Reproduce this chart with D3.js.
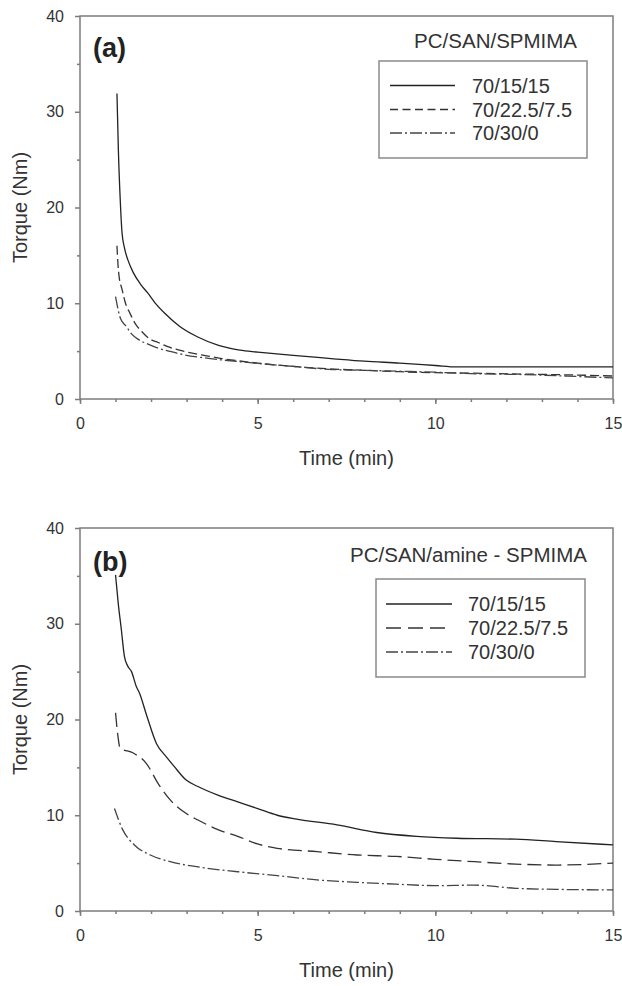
<!DOCTYPE html>
<html>
<head>
<meta charset="utf-8">
<script src="https://cdn.jsdelivr.net/npm/d3@7"></script>
<style>
  html, body { margin: 0; padding: 0; background: #fff; }
  svg { display: block; font-family: 'Liberation Sans', Arial, sans-serif; }
</style>
</head>
<body>
<div id="chart"></div>
<script>
// Torque vs time, two panels (a) and (b)
const seriesLabels = ['70/15/15', '70/22.5/7.5', '70/30/0'];
const xTicks = [0, 5, 10, 15];
const yTicks = [0, 10, 20, 30, 40];

// panel (a) PC/SAN/SPMIMA
const timeA1 = [1.04, 1.08, 1.13, 1.18, 1.25, 1.35, 1.5, 1.7, 1.9, 2.1, 2.4, 2.8, 3.3, 3.9, 4.5, 5.0, 6.0, 7.0, 8.0, 9.0, 10.0, 10.6, 12.0, 13.5, 15.0];
const torqueA1 = [31.9, 26, 21, 17.5, 15.8, 14.5, 13.2, 12.0, 11.1, 10.1, 8.9, 7.6, 6.5, 5.6, 5.1, 4.9, 4.55, 4.25, 3.95, 3.75, 3.5, 3.35, 3.35, 3.35, 3.35];
const timeA2 = [1.04, 1.07, 1.1, 1.18, 1.28, 1.4, 1.55, 1.75, 1.95, 2.2, 2.45, 2.95, 3.5, 3.95, 5.0, 6.0, 7.0, 8.0, 9.0, 10.0, 11.0, 12.5, 14.0, 15.0];
const torqueA2 = [16.0, 14.0, 12.8, 11.5, 10.0, 9.0, 7.9, 7.0, 6.3, 5.9, 5.5, 4.95, 4.55, 4.25, 3.75, 3.4, 3.15, 3.0, 2.85, 2.75, 2.7, 2.6, 2.5, 2.4];
const timeA3 = [1.0, 1.14, 1.3, 1.45, 1.65, 1.9, 2.2, 2.5, 2.95, 3.5, 3.95, 5.0, 6.0, 7.0, 8.0, 9.0, 10.0, 11.0, 12.5, 14.0, 15.0];
const torqueA3 = [10.7, 8.4, 7.6, 6.8, 6.2, 5.75, 5.3, 5.0, 4.6, 4.3, 4.1, 3.72, 3.4, 3.1, 3.0, 2.9, 2.8, 2.65, 2.55, 2.35, 2.2];

// panel (b) PC/SAN/amine - SPMIMA
const timeB1 = [1.0, 1.08, 1.16, 1.25, 1.34, 1.45, 1.59, 1.67, 1.87, 2.15, 2.43, 2.65, 2.98, 3.32, 3.88, 4.44, 5.0, 5.55, 6.1, 7.23, 8.35, 9.47, 10.6, 12.26, 13.4, 15.0];
const torqueB1 = [35.1, 32.0, 29.5, 26.6, 25.6, 25.0, 23.4, 22.8, 20.5, 17.5, 16.1, 15.1, 13.7, 13.0, 12.1, 11.4, 10.7, 10.0, 9.6, 9.0, 8.2, 7.8, 7.6, 7.5, 7.25, 6.9];
const timeB2 = [1.0, 1.06, 1.13, 1.5, 1.87, 2.2, 2.54, 2.98, 3.32, 3.88, 4.44, 5.0, 5.55, 6.67, 7.8, 8.9, 10.0, 11.1, 12.26, 13.4, 15.0];
const torqueB2 = [20.7, 18.5, 17.0, 16.5, 15.4, 13.3, 11.6, 10.2, 9.5, 8.5, 7.8, 7.0, 6.55, 6.2, 5.85, 5.7, 5.4, 5.15, 4.9, 4.8, 5.0];
const timeB3 = [0.97, 1.2, 1.53, 1.98, 2.54, 3.32, 4.44, 5.55, 6.67, 7.8, 8.9, 10.0, 11.1, 12.26, 13.4, 15.0];
const torqueB3 = [10.7, 8.5, 6.9, 5.85, 5.15, 4.6, 4.1, 3.7, 3.25, 3.0, 2.8, 2.65, 2.7, 2.37, 2.26, 2.2];

const width = 622, height = 986;
const svg = d3.select('#chart').append('svg')
    .attr('width', width)
    .attr('height', height);

const textColor = '#333';
const axisColor = '#7c7c7c';

function drawPanel(cfg) {
    const x = d3.scaleLinear().domain([0, 15]).range([80, 613]);
    const y = d3.scaleLinear().domain([0, 40]).range([cfg.bottom, cfg.top]);
    const g = svg.append('g');

    // frame
    g.append('rect')
        .attr('x', x(0)).attr('y', y(40))
        .attr('width', x(15) - x(0)).attr('height', y(0) - y(40))
        .attr('fill', 'none')
        .attr('stroke', axisColor)
        .attr('stroke-width', 1.5);

    // minor ticks
    g.append('g')
        .attr('transform', `translate(0,${y(0)})`)
        .call(d3.axisBottom(x).tickValues(d3.range(0, 16)).tickSize(3).tickFormat(''))
        .call(a => a.select('.domain').remove())
        .call(a => a.selectAll('line').attr('stroke', axisColor).attr('stroke-width', 1.5));
    g.append('g')
        .attr('transform', `translate(${x(0)},0)`)
        .call(d3.axisLeft(y).tickValues([5, 15, 25, 35]).tickSize(3).tickFormat(''))
        .call(a => a.select('.domain').remove())
        .call(a => a.selectAll('line').attr('stroke', axisColor).attr('stroke-width', 1.5));

    // major ticks + labels
    const xAxis = g.append('g')
        .attr('transform', `translate(0,${y(0)})`)
        .call(d3.axisBottom(x).tickValues(xTicks).tickSize(5).tickPadding(14));
    const yAxis = g.append('g')
        .attr('transform', `translate(${x(0)},0)`)
        .call(d3.axisLeft(y).tickValues(yTicks).tickSize(5).tickPadding(11));
    [xAxis, yAxis].forEach(a => {
        a.select('.domain').remove();
        a.selectAll('line').attr('stroke', axisColor).attr('stroke-width', 1.5);
        a.selectAll('text')
            .attr('fill', textColor)
            .style('font-size', '16px')
            .style('font-family', "'Liberation Sans', Arial, sans-serif");
    });

    // axis titles
    g.append('text')
        .attr('x', (x(0) + x(15)) / 2)
        .attr('y', y(0) + 66)
        .attr('text-anchor', 'middle')
        .attr('fill', textColor)
        .style('font-size', '20px')
        .text('Time (min)');
    g.append('text')
        .attr('transform', `translate(27,${(y(0) + y(40)) / 2}) rotate(-90)`)
        .attr('text-anchor', 'middle')
        .attr('fill', textColor)
        .style('font-size', '20px')
        .text('Torque (Nm)');

    // panel letter and title
    g.append('text')
        .attr('x', 93)
        .attr('y', cfg.letterY)
        .attr('fill', '#222')
        .style('font-size', '27px')
        .style('font-weight', 'bold')
        .text(cfg.letter);
    g.append('text')
        .attr('x', cfg.titleX)
        .attr('y', cfg.titleY)
        .attr('text-anchor', 'end')
        .attr('fill', textColor)
        .style('font-size', '20.5px')
        .text(cfg.title);

    // curves
    const line = d3.line()
        .x(d => x(d[0]))
        .y(d => y(d[1]))
        .curve(d3.curveMonotoneX);
    cfg.series.forEach((s, i) => {
        const pts = s.time.map((t, j) => [t, s.torque[j]]);
        g.append('path')
            .datum(pts)
            .attr('d', line)
            .attr('fill', 'none')
            .attr('stroke', cfg.styles[i].color)
            .attr('stroke-width', 1.3)
            .attr('stroke-dasharray', cfg.styles[i].dash);
    });

    // legend
    const lg = cfg.legend;
    g.append('rect')
        .attr('x', lg.x).attr('y', lg.y)
        .attr('width', lg.w).attr('height', lg.h)
        .attr('fill', '#fff')
        .attr('stroke', '#8a8a8a')
        .attr('stroke-width', 1.5);
    seriesLabels.forEach((label, i) => {
        const cy = lg.rows[i];
        g.append('line')
            .attr('x1', lg.lineX1).attr('x2', lg.lineX2)
            .attr('y1', cy).attr('y2', cy)
            .attr('stroke', cfg.styles[i].color)
            .attr('stroke-width', 1.3)
            .attr('stroke-dasharray', cfg.styles[i].legendDash);
        g.append('text')
            .attr('x', lg.textX)
            .attr('y', cy + 7)
            .attr('fill', textColor)
            .style('font-size', '20px')
            .text(label);
    });
}

drawPanel({
    top: 16, bottom: 399,
    letter: '(a)', letterY: 57,
    title: 'PC/SAN/SPMIMA', titleX: 577, titleY: 48,
    series: [
        { time: timeA1, torque: torqueA1 },
        { time: timeA2, torque: torqueA2 },
        { time: timeA3, torque: torqueA3 }
    ],
    styles: [
        { color: '#222', dash: null, legendDash: null },
        { color: '#333', dash: '9,4', legendDash: '8,4.5' },
        { color: '#444', dash: '12,3,2,3', legendDash: '12,3,2,3' }
    ],
    legend: { x: 379, y: 61, w: 208, h: 97, rows: [85.5, 109.5, 133], lineX1: 390, lineX2: 455, textX: 472 }
});

drawPanel({
    top: 528, bottom: 911,
    letter: '(b)', letterY: 571,
    title: 'PC/SAN/amine - SPMIMA', titleX: 587, titleY: 562,
    series: [
        { time: timeB1, torque: torqueB1 },
        { time: timeB2, torque: torqueB2 },
        { time: timeB3, torque: torqueB3 }
    ],
    styles: [
        { color: '#222', dash: null, legendDash: null },
        { color: '#333', dash: '14,6', legendDash: '15,7' },
        { color: '#444', dash: '12,3,2,3', legendDash: '12,3,2,3' }
    ],
    legend: { x: 376, y: 579, w: 209, h: 98, rows: [604, 628, 652], lineX1: 386, lineX2: 452, textX: 468 }
});
</script>
</body>
</html>
